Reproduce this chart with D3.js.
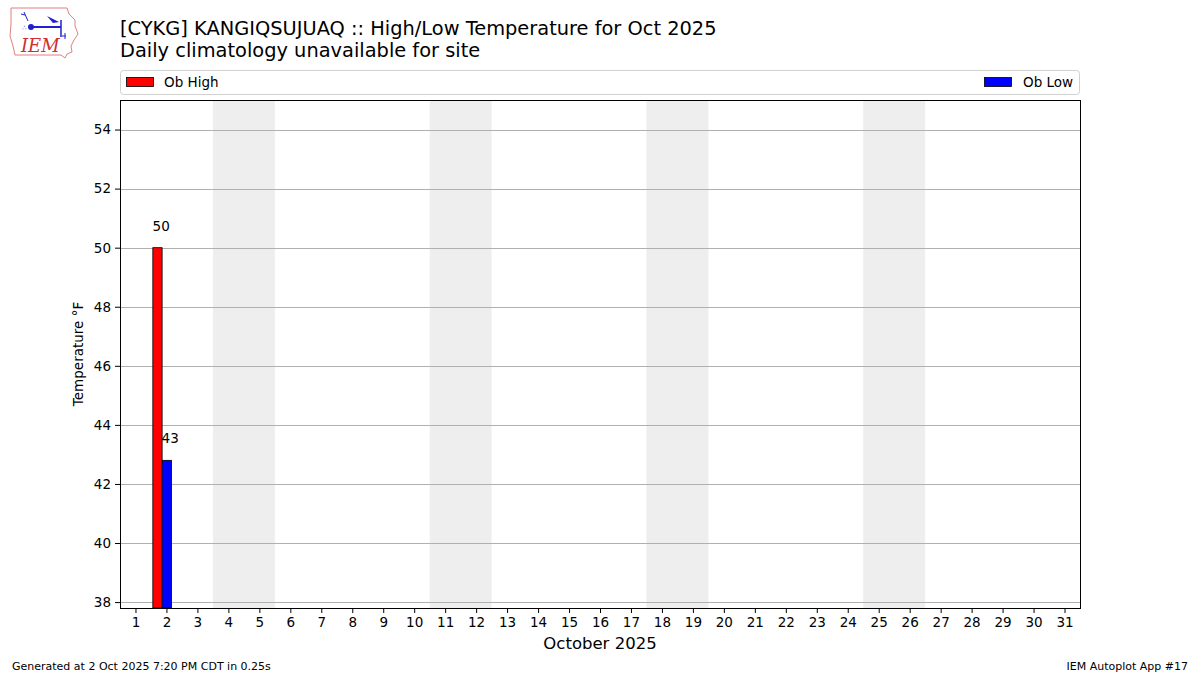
<!DOCTYPE html>
<html>
<head>
<meta charset="utf-8">
<script src="https://cdn.jsdelivr.net/npm/d3@7"></script>
<style>
  body { margin: 0; background: #fff; }
  svg { font-family: "DejaVu Sans", sans-serif; }
</style>
</head>
<body>
<svg id="chart" width="1200" height="675"></svg>
<script>
const days = d3.range(1, 32)
const obDays = [2]
const obHigh = [50]
const obLow = [42.8]
const obHighLabel = ['50']
const obLowLabel = ['43']
const weekends = [[4, 5], [11, 12], [18, 19], [25, 26]]
const yTicks = [38, 40, 42, 44, 46, 48, 50, 52, 54]

const svg = d3.select('#chart')
const margin = { top: 100, right: 120, bottom: 67, left: 120 }
const w = 1200 - margin.left - margin.right
const h = 675 - margin.top - margin.bottom

const x = d3.scaleLinear().domain([0.5, 31.5]).range([0, w])
const y = d3.scaleLinear().domain([37.8, 55]).range([h, 0])

// logo (rough)
const logo = svg.append('g').attr('transform', 'translate(9,6)')
logo.append('path')
  .attr('d', 'M2,2 L58,2 L60,8 L66,14 L66,20 L69,28 L65,34 L62,40 L63,46 L58,48 L56,52 L52,49 L6,49 L4,40 L1,30 L2,18 Z')
  .attr('fill', 'none').attr('stroke', '#e08080').attr('stroke-width', 1)
logo.append('line').attr('x1', 22).attr('y1', 21).attr('x2', 52).attr('y2', 21).attr('stroke', '#2020d0').attr('stroke-width', 2)
logo.append('circle').attr('cx', 22).attr('cy', 21).attr('r', 3).attr('fill', '#2020d0')
logo.append('path').attr('d', 'M38,10 L50,16 L44,17 Z').attr('fill', '#2020d0')
logo.append('line').attr('x1', 52).attr('y1', 14).attr('x2', 52).attr('y2', 31).attr('stroke', '#2020d0').attr('stroke-width', 1.5)
logo.append('path').attr('d', 'M56,27 L56,33 M53,30 L57,30').attr('stroke', '#2020d0').attr('fill', 'none')
logo.append('path').attr('d', 'M19,15 L15,6 M16,9 L12,8').attr('stroke', '#2020d0').attr('fill', 'none')
logo.append('text').attr('x', 13).attr('y', 24).attr('font-size', 7).attr('fill', '#2020d0').text('∴')
logo.append('text').attr('x', 12).attr('y', 46)
  .attr('font-family', '"DejaVu Serif", "Liberation Serif", serif')
  .attr('font-style', 'italic').attr('font-size', 18).attr('fill', '#d03030').text('IEM')

// titles
svg.append('text').attr('x', 120).attr('y', 35).attr('font-size', 19.4)
  .text('[CYKG] KANGIQSUJUAQ :: High/Low Temperature for Oct 2025')
svg.append('text').attr('x', 120).attr('y', 57).attr('font-size', 19.4)
  .text('Daily climatology unavailable for site')

// legend
const leg = svg.append('g')
leg.append('rect').attr('x', 120.5).attr('y', 70.5).attr('width', 959).attr('height', 24)
  .attr('rx', 3).attr('fill', '#fff').attr('stroke', '#d0d0d0')
leg.append('rect').attr('x', 126.5).attr('y', 77.5).attr('width', 27).attr('height', 9)
  .attr('fill', 'red').attr('stroke', '#000').attr('stroke-width', 0.8)
leg.append('text').attr('x', 164).attr('y', 86.5).attr('font-size', 13.5).text('Ob High')
leg.append('rect').attr('x', 984.5).attr('y', 77.5).attr('width', 27).attr('height', 9)
  .attr('fill', 'blue').attr('stroke', '#000').attr('stroke-width', 0.8)
leg.append('text').attr('x', 1023).attr('y', 86.5).attr('font-size', 13.5).text('Ob Low')

const g = svg.append('g').attr('transform', `translate(${margin.left},${margin.top})`)

// weekend shading
g.selectAll('.wkend').data(weekends).enter().append('rect')
  .attr('x', d => x(d[0] - 0.5))
  .attr('width', d => x(d[1] + 0.5) - x(d[0] - 0.5))
  .attr('y', 0).attr('height', h)
  .attr('fill', '#eeeeee')

// grid
g.selectAll('.grid').data(yTicks).enter().append('line')
  .attr('x1', 0).attr('x2', w)
  .attr('y1', d => Math.round(y(d)) + 0.5).attr('y2', d => Math.round(y(d)) + 0.5)
  .attr('stroke', '#b0b0b0').attr('stroke-width', 1)

// bars
const barW = 0.3
g.selectAll('.high').data(obDays).enter().append('rect')
  .attr('x', d => x(d - 2 * barW + 0.16))
  .attr('width', x(barW) - x(0))
  .attr('y', (d, i) => y(obHigh[i]))
  .attr('height', (d, i) => h - y(obHigh[i]))
  .attr('fill', 'red').attr('stroke', '#000').attr('stroke-width', 0.8)
g.selectAll('.low').data(obDays).enter().append('rect')
  .attr('x', d => x(d - barW + 0.16))
  .attr('width', x(barW) - x(0))
  .attr('y', (d, i) => y(obLow[i]))
  .attr('height', (d, i) => h - y(obLow[i]))
  .attr('fill', 'blue').attr('stroke', '#000').attr('stroke-width', 0.8)

g.selectAll('.hl').data(obDays).enter().append('text')
  .attr('x', d => x(d - 0.17)).attr('y', (d, i) => y(obHigh[i]) - 17)
  .attr('text-anchor', 'middle').attr('font-size', 13.5).text((d, i) => obHighLabel[i])
g.selectAll('.ll').data(obDays).enter().append('text')
  .attr('x', d => x(d + 0.12)).attr('y', (d, i) => y(obLow[i]) - 17)
  .attr('text-anchor', 'middle').attr('font-size', 13.5).text((d, i) => obLowLabel[i])

// frame
g.append('rect').attr('x', 0.5).attr('y', 0.5).attr('width', w).attr('height', h)
  .attr('fill', 'none').attr('stroke', '#000').attr('stroke-width', 1)

// axes
const xAxis = g.append('g').attr('transform', `translate(0,${h})`)
  .call(d3.axisBottom(x).tickValues(days).tickFormat(d3.format('d')).tickSize(5).tickPadding(4))
const yAxis = g.append('g')
  .call(d3.axisLeft(y).tickValues(yTicks).tickSize(5).tickPadding(4))
;[xAxis, yAxis].forEach(a => {
  a.select('.domain').remove()
  a.selectAll('text').attr('font-size', 13.5).attr('fill', '#000').attr('font-family', '"DejaVu Sans", sans-serif')
  a.selectAll('line').attr('stroke', '#000')
})

svg.append('text').attr('x', 600).attr('y', 649).attr('text-anchor', 'middle')
  .attr('font-size', 16.5).text('October 2025')
svg.append('text').attr('transform', 'translate(83,354) rotate(-90)')
  .attr('text-anchor', 'middle').attr('font-size', 13.5).text('Temperature °F')

svg.append('text').attr('x', 12).attr('y', 670).attr('font-size', 11)
  .text('Generated at 2 Oct 2025 7:20 PM CDT in 0.25s')
svg.append('text').attr('x', 1188).attr('y', 670).attr('text-anchor', 'end').attr('font-size', 11)
  .text('IEM Autoplot App #17')
</script>
</body>
</html>
